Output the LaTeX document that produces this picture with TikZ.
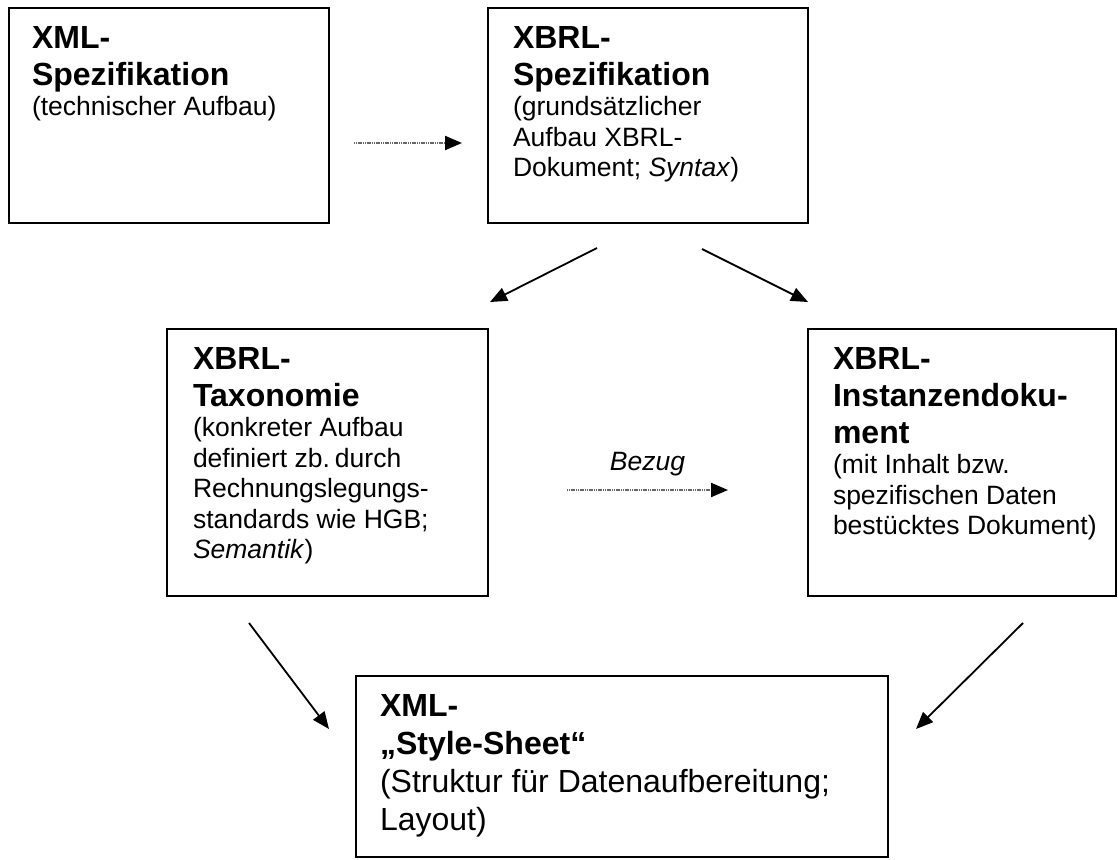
\documentclass[tikz,border=0pt]{standalone}
\usepackage{fontspec}
\setmainfont{Liberation Sans}
\usetikzlibrary{arrows.meta,calc}
\setlength\parindent{0pt}
\setlength\parskip{0pt}
\newcommand\xttl{\bfseries\fontsize{32}{37}\selectfont\spaceskip=0.278em\relax}
\newcommand\xbdy{\mdseries\fontsize{26.5}{30.5}\selectfont\spaceskip=0.278em\relax}
\newcommand\xbig{\mdseries\fontsize{32}{38}\selectfont\spaceskip=0.278em\relax}
\newcommand\xbigt{\bfseries\fontsize{32}{38}\selectfont\spaceskip=0.278em\relax}
\begin{document}
\begin{tikzpicture}[x=1pt,y=-1pt,
  box/.style={draw, line width=1.6pt, rectangle, inner sep=0pt, outer sep=0pt, anchor=north west},
  txt/.style={anchor=north west, inner sep=0pt, outer sep=0pt, align=left, text width=#1},
  arr/.style={line width=1.8pt, -{Triangle[length=17pt,width=14pt]}},
  darr/.style={line width=2.2pt, draw=black!60, dash pattern=on 1.2pt off 0.6pt, -{Triangle[length=17pt,width=14pt,color=black,fill=black]}},
  lab/.style={inner sep=0pt, font=\xbdy\itshape}
]
\useasboundingbox[fill=white] (0,0) rectangle (1118,859);

% boxes
\node[box, minimum width=320pt, minimum height=215pt] (b1) at (9,8) {};
\node[box, minimum width=320pt, minimum height=215pt] (b2) at (488,8) {};
\node[box, minimum width=321pt, minimum height=267pt] (b3) at (167,329) {};
\node[box, minimum width=308pt, minimum height=267pt] (b4) at (808,329) {};
\node[box, minimum width=532pt, minimum height=181pt] (b5) at (356,676) {};

% texts
\node[txt=290pt] (t1) at ($(b1.north west)+(23,18)$)
  {{\xttl XML-\\Spezifikation\par}{\xbdy (technischer Aufbau)\par}};
\node[txt=290pt] (t2) at ($(b2.north west)+(25,18)$)
  {{\xttl XBRL-\\Spezifikation\par}{\xbdy (grunds\"atzlicher\\Aufbau XBRL-\\Dokument; \textit{Syntax})\par}};
\node[txt=290pt] (t3) at ($(b3.north west)+(26,18)$)
  {{\xttl XBRL-\\Taxonomie\par}{\xbdy (konkreter Aufbau\\definiert zb. durch\\Rechnungslegungs-\\standards wie HGB;\\\textit{Semantik})\par}};
\node[txt=290pt] (t4) at ($(b4.north west)+(25,18)$)
  {{\xttl XBRL-\\Instanzendoku-\\ment\par}{\xbdy (mit Inhalt bzw.\\spezifischen Daten\\bestücktes Dokument)\par}};
\node[txt=500pt] (t5) at ($(b5.north west)+(24,18)$)
  {{\xbigt XML-\\„Style-Sheet“\par}{\xbig (Struktur für Datenaufbereitung;\\Layout)\par}};

% connector ends
\coordinate (a1s) at ($(b1.north east)+(25,135)$);
\coordinate (a1e) at ($(b2.north west)+(-26,135)$);
\coordinate (a2s) at ($(b2.south west)+(109,25)$);
\coordinate (a2e) at ($(b3.north east)+(2,-27)$);
\coordinate (a3s) at ($(b2.south west)+(214,26)$);
\coordinate (a3e) at ($(b4.north west)+(0,-27)$);
\coordinate (a4s) at ($(b3.north east)+(79,161)$);
\coordinate (a4e) at ($(b4.north west)+(-80,161)$);
\coordinate (a5s) at ($(b3.south west)+(82,27)$);
\coordinate (a5e) at ($(b5.north west)+(-27,53)$);
\coordinate (a6s) at ($(b4.south west)+(215,27)$);
\coordinate (a6e) at ($(b5.north east)+(28,53)$);

\draw[darr] (a1s) -- (a1e);
\draw[arr] (a2s) -- (a2e);
\draw[arr] (a3s) -- (a3e);
\draw[darr] (a4s) -- (a4e);
\node[lab, anchor=base] (bz) at ($(a4s)!0.5!(a4e)+(0,-20)$) {Bezug};
\draw[arr] (a5s) -- (a5e);
\draw[arr] (a6s) -- (a6e);
\end{tikzpicture}
\end{document}
